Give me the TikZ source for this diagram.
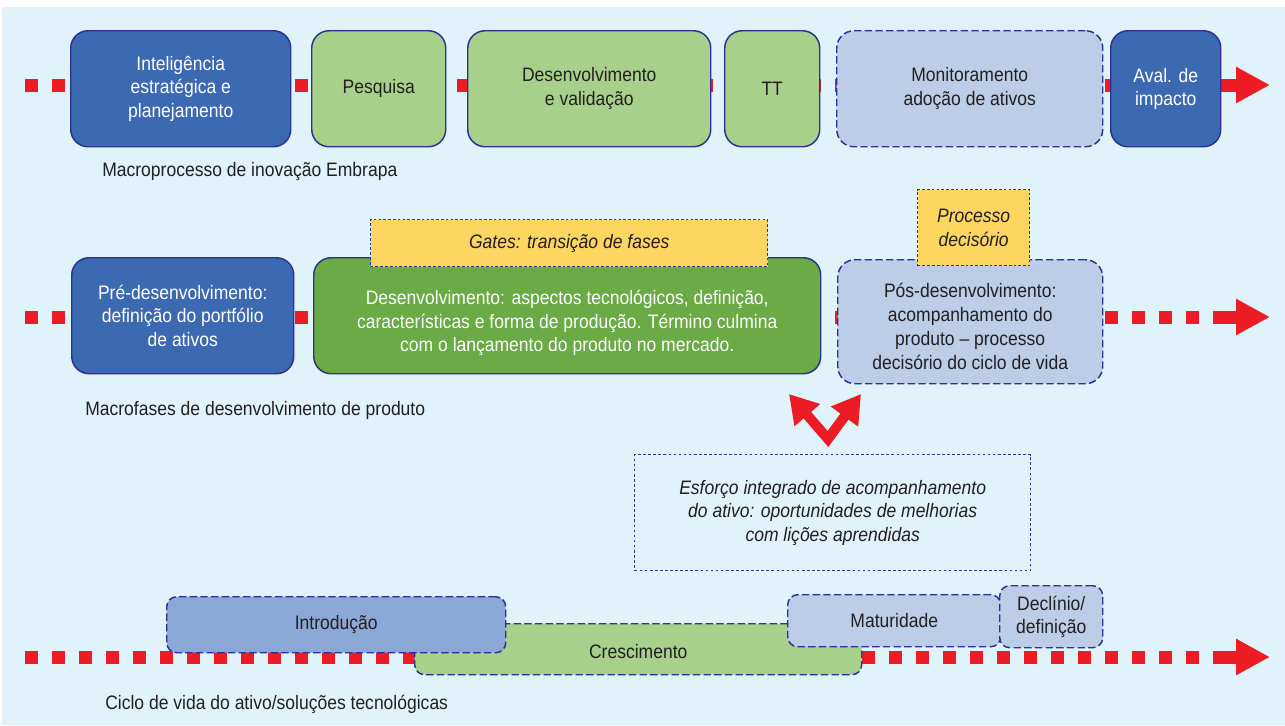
\documentclass[tikz,border=0pt]{standalone}
\usepackage{fontspec}
\setmainfont[FakeStretch=0.9]{Liberation Sans}
\usetikzlibrary{arrows.meta}

\definecolor{bgblue}{HTML}{E0F3FA}
\definecolor{navy}{HTML}{2E3192}
\definecolor{dblue}{HTML}{3B6AB3}
\definecolor{lgreen}{HTML}{A7D18B}
\definecolor{mgreen}{HTML}{6AAB45}
\definecolor{lblue}{HTML}{BCCDE8}
\definecolor{mblue}{HTML}{8AA7D6}
\definecolor{gold}{HTML}{FDD662}
\definecolor{arrowred}{HTML}{ED1C24}
\definecolor{ink}{HTML}{231F20}

\begin{document}
\begin{tikzpicture}[x=0.75pt,y=-0.75pt,
  txt/.style={font=\fontsize{14.6}{17.6}\selectfont, text=ink, align=center, inner sep=0pt},
  base/.style={txt, rectangle, anchor=north west, line width=1.1pt, draw=navy},
  sz/.style 2 args={minimum width=#1*0.75pt, minimum height=#2*0.75pt},
  rbox/.style={base, rounded corners=13pt},
  darkbox/.style={rbox, fill=dblue, text=white},
  greenbox/.style={rbox, fill=lgreen},
  devbox/.style={rbox, fill=mgreen, text=white},
  dashbox/.style={rbox, fill=lblue, dash pattern=on 5.5pt off 2.5pt},
  lowbox/.style={base, rounded corners=7.5pt, dash pattern=on 5.5pt off 2.5pt},
  gatebox/.style={base, fill=gold, line width=1pt, dash pattern=on 2pt off 1.6pt},
  notebox/.style={base, line width=1pt, dash pattern=on 2pt off 1.8pt},
  caption/.style={txt, anchor=west},
  reddash/.style={draw=arrowred, line width=9.75pt, dash pattern=on 9.75pt off 10.5pt},
  redhead/.style={draw=arrowred, line width=9.75pt, -{Triangle[length=25.5pt, width=25.5pt]}}
]
\useasboundingbox (0,0) rectangle (1285,725);
\fill[bgblue] (2,7) rectangle (1285,725);

% flow lines behind the boxes
\coordinate (l1s) at (25,85);   \coordinate (l1e) at (1223,85);  \coordinate (l1t) at (1270,85);
\coordinate (l2s) at (25,317);  \coordinate (l2e) at (1223,317); \coordinate (l2t) at (1270,317);
\coordinate (l3s) at (25,657);  \coordinate (l3e) at (1223,657); \coordinate (l3t) at (1270,657);
\draw[reddash] (l1s) -- (l1e); \draw[redhead] (l1e) -- (l1t);
\draw[reddash] (l2s) -- (l2e); \draw[redhead] (l2e) -- (l2t);
\draw[reddash] (l3s) -- (l3e); \draw[redhead] (l3e) -- (l3t);

% macroprocess
\node[darkbox, sz={220}{116}] (intel) at (70,30) {Inteligência\\estratégica e\\planejamento};
\node[greenbox, sz={134}{116}] (pesq) at (311,30) {Pesquisa};
\node[greenbox, sz={243}{116}] (devval) at (467,30) {Desenvolvimento\\e validação};
\node[greenbox, sz={95}{116}] (tt) at (724,30) {TT};
\node[dashbox, sz={266}{116}] (monit) at (836,30) {Monitoramento\\adoção de ativos};
\node[darkbox, sz={110}{116}] (aval) at (1110,30) {Aval. de\\impacto};
\node[caption] (cap1) at (102,172) {Macroprocesso de inovação Embrapa};

% product development phases
\node[darkbox, sz={222}{116}] (pre) at (71,257) {Pré-desenvolvimento:\\definição do portfólio\\de ativos};
\node[devbox, sz={507}{116}] (dev) at (313,257) {};
\node[txt, text=white] (devtxt) at ([yshift=-5.5pt]dev.center) {Desenvolvimento: aspectos tecnológicos, definição,\\características e forma de produção. Término culmina\\com o lançamento do produto no mercado.};
\node[gatebox, sz={397}{47}] (gates) at (370,219) {\itshape Gates: transição de fases};
\node[dashbox, sz={265}{124}] (pos) at (837,259) {};
\node[txt, font=\fontsize{14.6}{18}\selectfont] (postxt) at ([yshift=-3.5pt]pos.center) {Pós-desenvolvimento:\\acompanhamento do\\produto – processo\\decisório do ciclo de vida};
\node[gatebox, sz={112}{76}] (proc) at (917,189) {\itshape Processo\\\itshape decisório};
\node[caption] (cap2) at (85,410) {Macrofases de desenvolvimento de produto};

% feedback arrow and note
\coordinate (vl) at (789,394);
\coordinate (vv) at (828,439);
\coordinate (vr) at (861,394);
\draw[arrowred, line width=7.5pt, miter limit=10,
  {Triangle[length=21pt, width=24pt]}-{Triangle[length=21pt, width=24pt]}] (vl) -- (vv) -- (vr);
\node[notebox, sz={396}{116}] (note) at (634,454) {\itshape Esforço integrado de acompanhamento\\\itshape do ativo: oportunidades de melhorias\\\itshape com lições aprendidas};

% life cycle
\node[lowbox, fill=lgreen, sz={447}{51}] (cresc) at (414,623) {};
\node[txt] (cresctxt) at ([yshift=-1.5pt]cresc.center) {Crescimento};
\node[lowbox, fill=mblue, sz={339}{56}] (intro) at (166,596) {Introdução};
\node[lowbox, fill=lblue, sz={213}{52}] (matur) at (787,594) {Maturidade};
\node[lowbox, fill=lblue, sz={103}{62}] (decl) at (999,585) {Declínio/\\definição};
\node[caption] (cap3) at (105,704) {Ciclo de vida do ativo/soluções tecnológicas};
\end{tikzpicture}
\end{document}
